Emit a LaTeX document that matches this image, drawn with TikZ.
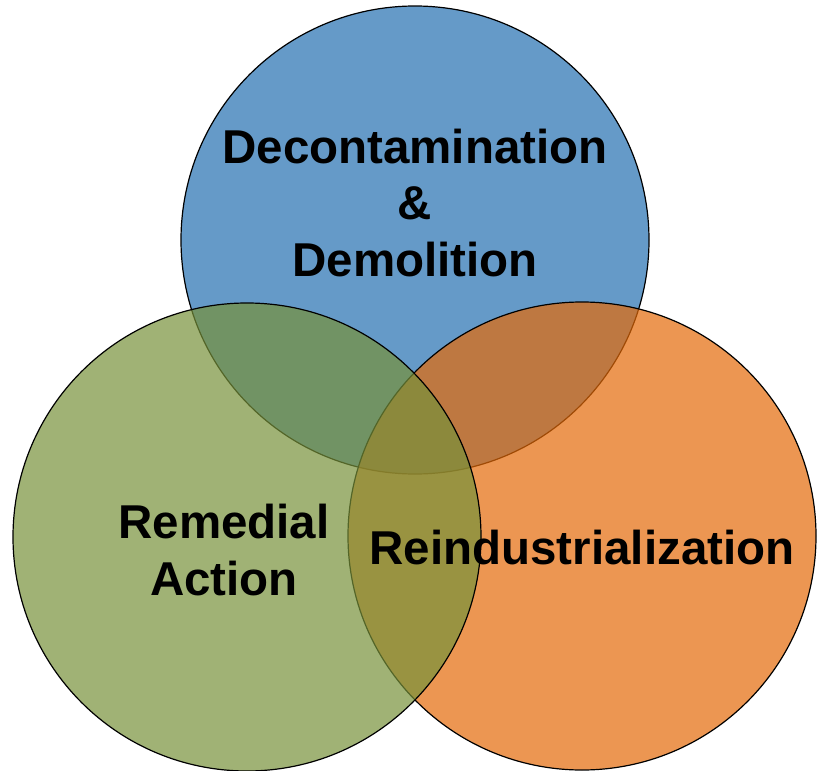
\documentclass[tikz,border=0pt]{standalone}
\usepackage{fontspec}
\setmainfont{Liberation Sans}
\definecolor{ddblue}{RGB}{101,154,200}
\definecolor{reorange}{RGB}{228,106,8}
\definecolor{regreen}{RGB}{119,145,58}
\begin{document}
\begin{tikzpicture}[x=1pt, y=-1pt,
        venn/.style={circle, draw=black, line width=1.2pt, minimum size=468pt, inner sep=0pt},
        vennlabel/.style={align=center, inner sep=0pt, font=\fontsize{47.5}{56.5}\selectfont\bfseries}]
        \useasboundingbox (0, 0) rectangle (817, 771);
        \node[venn, fill=ddblue] (dd) at (415, 240) {};
        \node[venn, fill=reorange, fill opacity=0.7] (reind) at (582, 536) {};
        \node[venn, fill=regreen, fill opacity=0.7] (remed) at (247, 537) {};
        \node[vennlabel] (ddtext) at (415, 203) {Decontamination\\\&\\Demolition};
        \node[vennlabel] (remedtext) at (224, 550) {Remedial\\Action};
        \node[vennlabel] (reindtext) at (582, 548) {Reindustrialization};
    \end{tikzpicture}
\end{document}
